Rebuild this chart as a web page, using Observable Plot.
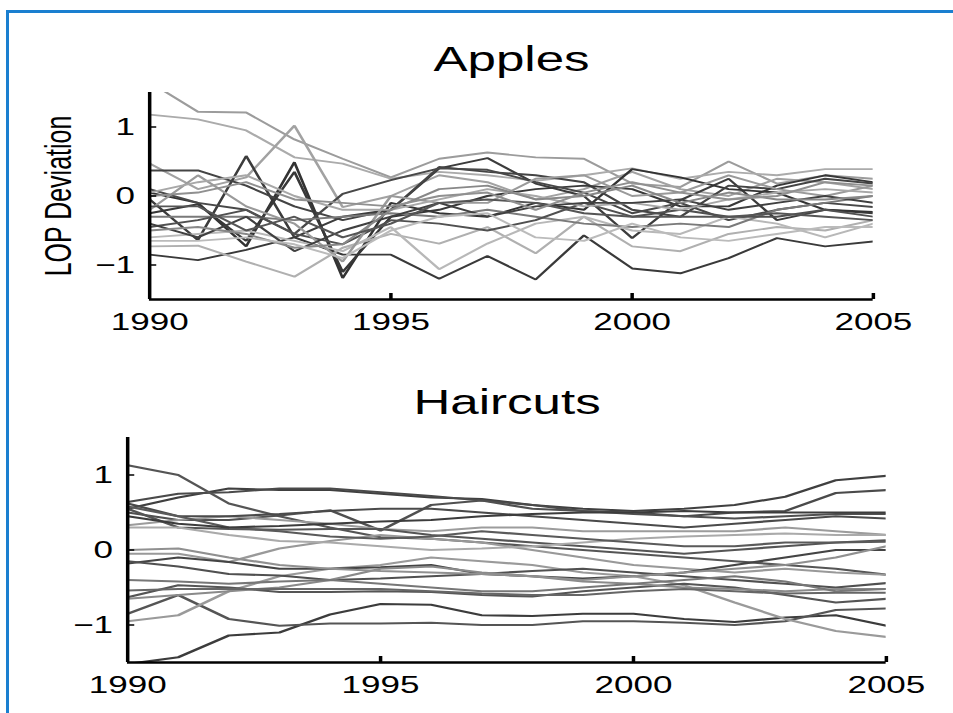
<!DOCTYPE html>
<html><head><meta charset="utf-8">
<script src="https://cdn.jsdelivr.net/npm/d3@7"></script>
<script src="https://cdn.jsdelivr.net/npm/@observablehq/plot@0.6"></script>
<style>
html,body{margin:0;padding:0;background:#fff}
body{width:953px;height:713px;overflow:hidden;position:relative;font-family:"Liberation Sans",Arial,Helvetica,sans-serif}
#frame{position:absolute;left:6px;top:10px;width:980px;height:740px;border-left:3px solid #1a7fd0;border-top:3px solid #1a7fd0;box-sizing:border-box}
.panel{position:absolute;left:0}
</style></head>
<body>
<div id="frame"></div>
<div id="p1" class="panel" style="top:0px"></div>
<div id="p2" class="panel" style="top:345px"></div>
<script>
const years = d3.range(1990, 2006);
const xTicks = [1990, 1995, 2000, 2005];
const yTicks = [-1, 0, 1];
const yDomain = [-1.5, 1.5];

// Apples: LOP deviation per series, 1990..2005
const apples = [
  [1.65, 1.22, 1.21, 0.82, 0.54, 0.27, 0.54, 0.63, 0.56, 0.54, 0.18, 0.13, 0.50, 0.18, 0.30, 0.25],
  [1.18, 1.11, 0.95, 0.56, 0.47, 0.25, 0.35, 0.30, 0.22, 0.30, 0.40, 0.25, 0.35, 0.30, 0.39, 0.39],
  [0.47, 0.10, 0.27, 1.02, -0.16, 0.00, 0.30, 0.20, -0.05, 0.10, 0.35, 0.10, 0.00, 0.25, 0.20, 0.10],
  [-0.05, -0.64, 0.58, -0.60, -0.30, -0.20, 0.40, 0.55, 0.18, 0.00, -0.61, -0.06, 0.25, -0.35, -0.20, -0.25],
  [0.05, -0.10, -0.73, 0.49, -1.19, -0.10, -0.25, -0.30, -0.10, -0.20, 0.39, 0.27, 0.10, 0.05, -0.20, -0.23],
  [0.37, 0.37, 0.15, -0.15, -0.35, -0.20, 0.42, 0.35, 0.30, 0.20, -0.20, -0.30, 0.15, 0.10, 0.25, 0.18],
  [-0.25, -0.12, -0.65, 0.35, -1.10, -0.30, -0.20, 0.00, 0.10, 0.15, 0.10, -0.15, -0.15, 0.15, 0.30, 0.20],
  [-0.85, -0.93, -0.78, -0.60, -0.85, -0.85, -1.20, -0.87, -1.21, -0.57, -1.05, -1.12, -0.90, -0.61, -0.73, -0.66],
  [0.10, -0.10, -0.20, -0.55, 0.03, 0.23, 0.40, 0.38, 0.20, 0.05, -0.25, -0.10, -0.35, -0.20, -0.10, -0.16],
  [-0.73, -0.72, -0.95, -1.17, -0.75, -0.55, -0.69, -0.45, -0.83, -0.30, -0.73, -0.80, -0.55, -0.45, -0.50, -0.35],
  [-0.60, -0.55, -0.50, -0.65, -0.80, -0.45, -1.06, -0.69, -0.40, -0.30, -0.50, -0.55, -0.30, -0.40, -0.60, -0.40],
  [-0.30, -0.30, -0.30, -0.35, -0.30, -0.25, -0.30, -0.20, -0.30, -0.40, -0.45, -0.40, -0.45, -0.20, -0.10, 0.00],
  [-0.45, -0.35, -0.20, -0.55, -0.70, -0.35, -0.40, -0.50, -0.35, -0.10, -0.30, -0.20, -0.30, -0.30, -0.20, -0.30],
  [-0.20, 0.30, -0.15, -0.40, -0.95, 0.00, -0.10, -0.10, 0.25, 0.30, 0.00, 0.05, 0.30, 0.10, 0.00, 0.15],
  [0.05, 0.20, 0.30, 0.00, -0.20, -0.20, -0.05, 0.10, 0.00, -0.15, -0.10, -0.20, -0.05, 0.05, 0.10, 0.05],
  [-0.40, -0.60, -0.30, -0.80, -0.50, -0.30, -0.10, -0.30, -0.15, -0.10, -0.10, -0.05, -0.20, -0.10, 0.00, -0.10],
  [-0.50, -0.45, -0.55, -0.75, -0.70, -0.20, 0.10, 0.15, -0.05, 0.00, 0.15, -0.10, 0.05, -0.05, -0.05, 0.00],
  [-0.65, -0.65, -0.60, -0.70, -0.90, -0.50, -0.30, -0.25, -0.60, -0.65, -0.40, -0.60, -0.65, -0.55, -0.45, -0.45],
  [-0.15, -0.15, -0.50, -0.30, -0.60, -0.40, -0.10, -0.05, -0.10, -0.25, -0.30, -0.30, -0.30, -0.25, -0.30, -0.35],
  [0.00, 0.05, 0.20, -0.05, -0.10, -0.15, 0.00, 0.05, -0.20, 0.05, 0.20, 0.05, -0.05, 0.00, 0.20, 0.15]
];

// Haircuts: LOP deviation per series, 1990..2005
const haircuts = [
  [0.55, 0.70, 0.82, 0.80, 0.80, 0.75, 0.70, 0.68, 0.60, 0.55, 0.52, 0.55, 0.60, 0.71, 0.93, 0.99],
  [0.64, 0.75, 0.77, 0.82, 0.82, 0.77, 0.72, 0.66, 0.60, 0.52, 0.50, 0.45, 0.50, 0.52, 0.76, 0.80],
  [1.13, 1.00, 0.62, 0.45, 0.30, 0.17, 0.15, 0.10, 0.05, 0.00, -0.05, -0.10, -0.15, -0.20, -0.25, -0.33],
  [-1.52, -1.43, -1.14, -1.10, -0.86, -0.72, -0.73, -0.87, -0.88, -0.85, -0.85, -0.92, -0.96, -0.90, -0.87, -1.01],
  [-0.85, -0.60, -0.92, -1.01, -0.98, -0.98, -0.97, -1.00, -1.00, -0.95, -0.95, -0.97, -1.00, -0.95, -0.80, -0.78],
  [-0.95, -0.87, -0.55, -0.35, -0.25, -0.20, -0.10, -0.15, -0.20, -0.30, -0.35, -0.47, -0.70, -0.92, -1.08, -1.16],
  [-0.05, -0.05, -0.16, 0.02, 0.12, 0.20, 0.15, 0.10, 0.00, -0.10, -0.20, -0.25, -0.30, -0.25, -0.30, -0.33],
  [-0.18, -0.10, -0.16, -0.25, -0.25, -0.23, -0.20, -0.32, -0.35, -0.38, -0.35, -0.30, -0.20, -0.10, 0.00, 0.00],
  [-0.15, -0.22, -0.32, -0.34, -0.40, -0.38, -0.35, -0.32, -0.28, -0.25, -0.30, -0.35, -0.40, -0.45, -0.50, -0.44],
  [-0.63, -0.47, -0.50, -0.56, -0.56, -0.55, -0.56, -0.60, -0.62, -0.55, -0.50, -0.45, -0.50, -0.60, -0.70, -0.65],
  [-0.65, -0.60, -0.55, -0.50, -0.40, -0.25, -0.22, -0.30, -0.35, -0.42, -0.45, -0.50, -0.52, -0.55, -0.52, -0.52],
  [-0.54, -0.52, -0.52, -0.52, -0.52, -0.52, -0.55, -0.58, -0.60, -0.60, -0.55, -0.52, -0.55, -0.58, -0.57, -0.57],
  [0.50, 0.40, 0.40, 0.46, 0.53, 0.26, 0.60, 0.66, 0.55, 0.52, 0.48, 0.45, 0.42, 0.45, 0.48, 0.48],
  [0.33, 0.40, 0.45, 0.40, 0.35, 0.28, 0.25, 0.30, 0.30, 0.25, 0.25, 0.25, 0.25, 0.30, 0.25, 0.20],
  [0.62, 0.45, 0.45, 0.48, 0.52, 0.55, 0.55, 0.50, 0.45, 0.40, 0.35, 0.30, 0.35, 0.40, 0.45, 0.42],
  [0.55, 0.30, 0.28, 0.27, 0.28, 0.28, 0.20, 0.15, 0.10, 0.05, 0.00, -0.05, 0.00, 0.05, 0.10, 0.13],
  [0.30, 0.30, 0.20, 0.12, 0.10, 0.05, 0.00, 0.02, 0.05, 0.10, 0.15, 0.18, 0.20, 0.22, 0.20, 0.20],
  [0.58, 0.45, 0.30, 0.25, 0.18, 0.15, 0.18, 0.25, 0.20, 0.15, 0.10, 0.05, 0.05, 0.10, 0.10, 0.11],
  [0.00, 0.02, -0.10, -0.20, -0.25, -0.28, -0.30, -0.32, -0.35, -0.40, -0.35, -0.30, -0.25, -0.20, -0.10, 0.05],
  [-0.40, -0.42, -0.45, -0.42, -0.40, -0.45, -0.50, -0.55, -0.55, -0.50, -0.45, -0.40, -0.35, -0.42, -0.55, -0.52],
  [0.45, 0.35, 0.30, 0.32, 0.35, 0.38, 0.40, 0.45, 0.48, 0.50, 0.50, 0.52, 0.50, 0.50, 0.50, 0.50]
];

const S = 1.46;          // horizontal stretch of the original figure
const W = 653;           // virtual width (953 / S)
const FONT = '"Liberation Sans", Arial, Helvetica, sans-serif';

function panel(el, {title, series, shades, height, marginTop, marginBottom, left, right, titleDy, ylabel, strokeWidth}) {
  const data = series.flatMap((vals, i) => vals.map((v, j) => ({id: i, year: years[j], value: v})));
  const marginLeft = left / S, marginRight = W - right / S;
  const marks = [
    Plot.line(data, {x: "year", y: "value", z: "id", stroke: "id", strokeWidth, clip: true, strokeLinejoin: "miter"}),
    Plot.axisX(xTicks, {tickSize: 0, tickPadding: 13, fontSize: 24, label: null, tickFormat: d => String(d)}),
    Plot.axisY(yTicks, {tickSize: 0, tickPadding: 10, fontSize: 24, label: null, tickFormat: d => d < 0 ? "\u2212" + (-d) : String(d)}),
    Plot.ruleX([xTicks[0]], {stroke: "#000", strokeWidth: 2.4}),
    Plot.ruleY([yDomain[0]], {stroke: "#000", strokeWidth: 2.4}),
    Plot.ruleX(xTicks.slice(1), {y1: yDomain[0], y2: yDomain[0], insetTop: -6, stroke: "#000", strokeWidth: 2.4}),
    Plot.ruleY(yTicks, {x1: xTicks[0], x2: xTicks[0], insetRight: -5, stroke: "#000", strokeWidth: 1.5}),
    Plot.text([title], {frameAnchor: "top", lineAnchor: "bottom", dy: titleDy, fontSize: 35, fill: "#000"})
  ];
  if (ylabel) marks.push(Plot.text([ylabel], {frameAnchor: "left", rotate: -90, dx: 40.4 - marginLeft, lineAnchor: "middle", textAnchor: "middle", fontSize: 25, fill: "#000"}));
  const chart = Plot.plot({
    width: W, height, marginTop, marginBottom, marginLeft, marginRight,
    style: {fontFamily: FONT, color: "#000", background: "transparent", overflow: "visible"},
    x: {domain: [xTicks[0], xTicks[xTicks.length - 1]], label: null},
    y: {domain: yDomain, label: null},
    color: {type: "ordinal", domain: d3.range(series.length), range: shades},
    marks
  });
  chart.setAttribute("preserveAspectRatio", "none");
  chart.setAttribute("width", 953);
  chart.setAttribute("height", height);
  chart.style.width = "953px";
  chart.style.height = height + "px";
  chart.style.maxWidth = "none";
  el.appendChild(chart);
}

panel(document.getElementById("p1"), {
  title: "Apples", series: apples,
  shades: ["#9c9c9c","#ababab","#a2a2a2","#3c3c3c","#333333","#444444","#383838","#3a3a3a","#484848","#b0b0b0",
           "#b8b8b8","#7a7a7a","#505050","#9a9a9a","#a8a8a8","#404040","#888888","#bbbbbb","#555555","#909090"],
  height: 345, marginTop: 92, marginBottom: 46, left: 149, right: 873, titleDy: -22,
  ylabel: "LOP Deviation", strokeWidth: 1.9
});

panel(document.getElementById("p2"), {
  title: "Haircuts", series: haircuts,
  shades: ["#404040","#4a4a4a","#555555","#3c3c3c","#555555","#9a9a9a","#999999","#444444","#505050","#555555",
           "#8a8a8a","#666666","#505050","#9c9c9c","#4a4a4a","#555555","#aaaaaa","#5a5a5a","#909090","#777777","#3c3c3c"],
  height: 368, marginTop: 92, marginBottom: 51, left: 127, right: 886, titleDy: -24,
  ylabel: null, strokeWidth: 2.2
});
</script>
</body></html>
